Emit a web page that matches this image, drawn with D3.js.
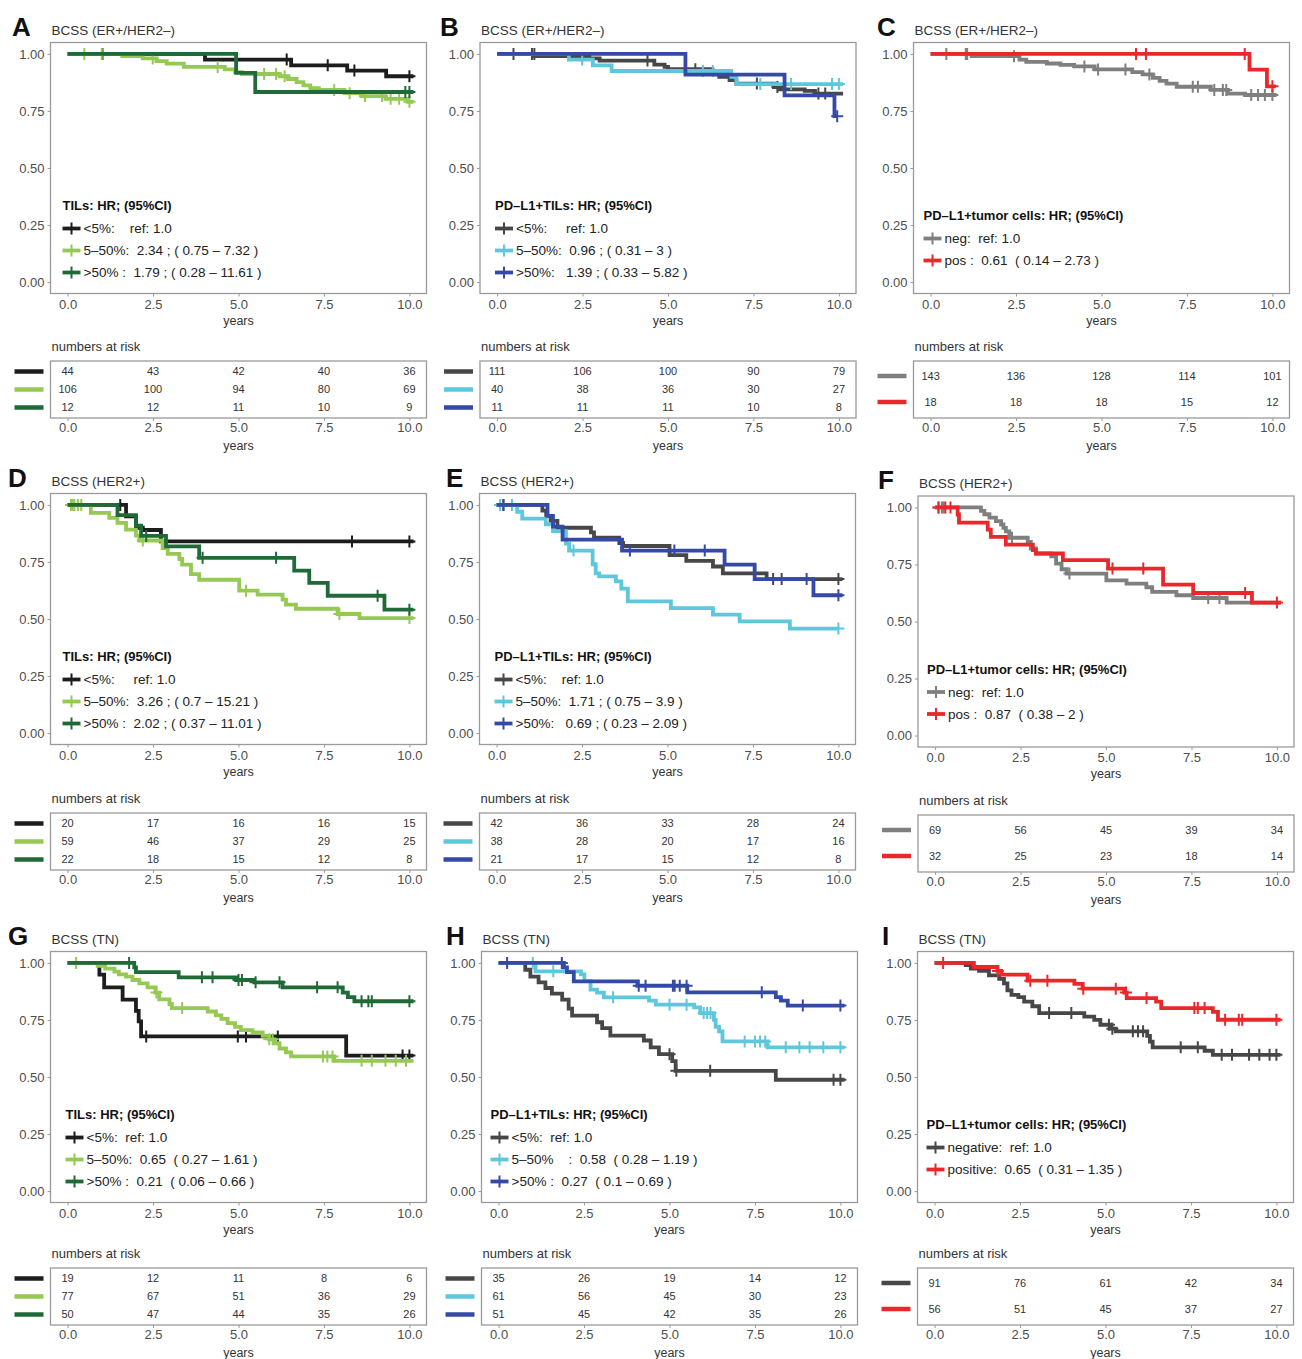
<!DOCTYPE html>
<html>
<head>
<meta charset="utf-8">
<script src="https://cdn.jsdelivr.net/npm/d3@7"></script>
<style>
  body { margin: 0; background: #fff; }
  text { font-family: "Liberation Sans", Arial, sans-serif; }
</style>
</head>
<body>
<div id="chart"></div>
<script>
// axis ticks
var timeTicks = [0, 2.5, 5, 7.5, 10]
var survTicks = [0, 0.25, 0.5, 0.75, 1]

// colours
var cBlack = "#1d1d1d", cLime = "#95c954", cForest = "#1f6a37"
var cDark = "#474747", cCyan = "#5fc7dc", cBlue = "#3549a6"
var cGrey = "#7f7f7f", cRed = "#e8282b"

// ---- A : TILs, ER+/HER2- ----
var aLowSteps = [[0,1],[4.02,0.975],[6.54,0.95],[8.18,0.927],[9.32,0.902],[10.12,0.902]]
var aLowCens = [1.02, 6.41, 7.61, 8.39, 10.0]
var aMidSteps = [[0,1],[1.6,0.99],[2.2,0.98],[2.6,0.968],[2.9,0.957],[3.4,0.943],[4.6,0.932],[4.9,0.92],[5.1,0.912],[6.2,0.902],[6.45,0.89],[6.7,0.876],[6.9,0.862],[7.1,0.85],[7.35,0.842],[8.1,0.828],[8.6,0.815],[9.3,0.803],[9.95,0.79],[10.12,0.79]]
var aMidCens = [0.49, 1.0, 2.49, 4.39, 5.75, 6.1, 6.35, 7.8, 8.25, 8.7, 9.2, 9.45, 9.7, 10.0]
var aHighSteps = [[0,1],[4.93,0.917],[5.49,0.833],[10.12,0.833]]
var aHighCens = [9.88, 10.0]
var aRisk = [[44,43,42,40,36],[106,100,94,80,69],[12,12,11,10,9]]
var aLabels = ["<5%:    ref: 1.0", "5–50%:  2.34 ; ( 0.75 – 7.32 )", ">50% :  1.79 ; ( 0.28 – 11.61 )"]

// ---- B : PD-L1+TILs, ER+/HER2- ----
var bLowSteps = [[0,1],[1.1,0.99],[2.7,0.98],[3.0,0.971],[4.6,0.953],[4.9,0.943],[5.0,0.933],[6.3,0.915],[6.5,0.9],[6.8,0.885],[7.0,0.87],[8.1,0.855],[8.25,0.845],[9.0,0.838],[9.3,0.826],[10.12,0.826]]
var bLowCens = [0.48, 1.02, 1.09, 4.4, 5.8, 7.6, 8.2, 9.4, 9.6]
var bMidSteps = [[0,1],[2.1,0.975],[2.8,0.95],[3.35,0.925],[6.85,0.9],[7.0,0.868],[10.12,0.868]]
var bMidCens = [2.49, 6.02, 6.31, 7.7, 8.6, 9.8, 10.0]
var bHighSteps = [[0,1],[5.51,0.909],[8.41,0.818],[9.87,0.727],[9.95,0.727]]
var bHighCens = [9.95]
var bRisk = [[111,106,100,90,79],[40,38,36,30,27],[11,11,11,10,8]]
var bLabels = ["<5%:     ref: 1.0", "5–50%:  0.96 ; ( 0.31 – 3 )", ">50%:   1.39 ; ( 0.33 – 5.82 )"]

// ---- C : PD-L1+tumor cells, ER+/HER2- ----
var cNegSteps = [[0,1],[1.2,0.99],[2.6,0.975],[2.8,0.965],[3.4,0.958],[3.8,0.952],[4.2,0.945],[4.8,0.932],[5.9,0.92],[6.2,0.91],[6.5,0.895],[6.7,0.882],[6.9,0.87],[7.2,0.856],[8.2,0.842],[8.7,0.826],[9.2,0.82],[10.12,0.82]]
var cNegCens = [0.46, 1.03, 1.07, 2.44, 4.5, 4.9, 5.7, 6.4, 7.67, 7.82, 8.3, 8.55, 8.65, 9.38, 9.58, 9.78, 10.0]
var cPosSteps = [[0,1],[9.33,0.931],[9.84,0.858],[10.1,0.858]]
var cPosCens = [6.01, 6.3, 9.19, 10.0]
var cRisk = [[143,136,128,114,101],[18,18,18,15,12]]
var cLabels = ["neg:  ref: 1.0", "pos :  0.61  ( 0.14 – 2.73 )"]

// ---- D : TILs, HER2+ ----
var dLowSteps = [[0,1],[1.71,0.95],[2.0,0.9],[2.2,0.89],[2.73,0.84],[10.12,0.84]]
var dLowCens = [1.54, 8.32, 10.0]
var dMidSteps = [[0,1],[0.68,0.965],[1.22,0.943],[1.46,0.921],[1.71,0.892],[2.0,0.865],[2.1,0.844],[2.78,0.811],[2.93,0.785],[3.27,0.763],[3.35,0.738],[3.61,0.697],[3.85,0.672],[5.02,0.624],[5.56,0.607],[6.29,0.585],[6.39,0.563],[6.68,0.545],[7.9,0.522],[8.54,0.504],[10.12,0.504]]
var dMidCens = [0.1, 0.15, 0.2, 0.3, 0.4, 2.2, 5.22, 7.95, 10.0]
var dHighSteps = [[0,1],[1.46,0.955],[2.0,0.909],[2.15,0.864],[2.88,0.818],[3.85,0.768],[6.63,0.712],[7.07,0.658],[7.61,0.602],[9.27,0.541],[10.12,0.541]]
var dHighCens = [2.3, 3.95, 6.1, 9.07, 10.0]
var dRisk = [[20,17,16,16,15],[59,46,37,29,25],[22,18,15,12,8]]
var dLabels = ["<5%:     ref: 1.0", "5–50%:  3.26 ; ( 0.7 – 15.21 )", ">50% :  2.02 ; ( 0.37 – 11.01 )"]

// ---- E : PD-L1+TILs, HER2+ ----
var eLowSteps = [[0,1],[1.34,0.975],[1.45,0.952],[1.58,0.93],[1.78,0.9],[2.76,0.88],[2.85,0.857],[3.59,0.833],[3.7,0.82],[5.06,0.78],[5.55,0.755],[6.33,0.73],[6.62,0.7],[7.9,0.675],[10.12,0.675]]
var eLowCens = [0.1, 0.2, 8.09, 8.34, 10.0]
var eMidSteps = [[0,1],[0.6,0.97],[0.75,0.94],[1.44,0.915],[1.65,0.885],[2.03,0.83],[2.12,0.8],[2.81,0.74],[2.9,0.7],[3.0,0.687],[3.49,0.665],[3.65,0.633],[3.84,0.577],[5.1,0.548],[6.33,0.519],[7.11,0.49],[8.58,0.458],[10.0,0.458]]
var eMidCens = [0.1, 0.45, 2.25, 10.0]
var eHighSteps = [[0,1],[1.49,0.952],[1.65,0.905],[1.93,0.848],[3.67,0.8],[6.67,0.738],[7.55,0.675],[9.27,0.604],[10.12,0.604]]
var eHighCens = [0.2, 3.9, 5.2, 6.09, 9.07, 10.0]
var eRisk = [[42,36,33,28,24],[38,28,20,17,16],[21,17,15,12,8]]
var eLabels = ["<5%:    ref: 1.0", "5–50%:  1.71 ; ( 0.75 – 3.9 )", ">50%:   0.69 ; ( 0.23 – 2.09 )"]

// ---- F : PD-L1+tumor cells, HER2+ ----
var fNegSteps = [[0,1],[1.34,0.985],[1.44,0.97],[1.59,0.955],[1.78,0.94],[1.93,0.925],[2.0,0.91],[2.07,0.895],[2.17,0.867],[2.71,0.849],[2.8,0.82],[2.95,0.798],[3.4,0.785],[3.54,0.754],[3.7,0.729],[3.85,0.71],[5.01,0.68],[5.6,0.666],[6.18,0.65],[6.35,0.63],[7.06,0.615],[7.55,0.603],[8.53,0.583],[10.12,0.583]]
var fNegCens = [0.1, 0.2, 0.25, 2.25, 3.93, 7.99, 8.32]
var fPosSteps = [[0,1],[0.66,0.969],[0.7,0.933],[1.54,0.903],[1.63,0.871],[2.07,0.837],[2.86,0.813],[2.95,0.798],[3.74,0.769],[5.06,0.732],[6.67,0.662],[7.55,0.625],[9.27,0.583],[10.12,0.583]]
var fPosCens = [0.1, 0.3, 0.45, 5.19, 6.09, 9.07, 10.0]
var fRisk = [[69,56,45,39,34],[32,25,23,18,14]]
var fLabels = ["neg:  ref: 1.0", "pos :  0.87  ( 0.38 – 2 )"]

// ---- G : TILs, TN ----
var gLowSteps = [[0,1],[0.93,0.949],[1.07,0.893],[1.61,0.839],[2.0,0.79],[2.08,0.744],[2.15,0.678],[8.15,0.594],[10.12,0.594]]
var gLowCens = [2.3, 4.98, 5.22, 6.15, 9.8, 10.0]
var gMidSteps = [[0,1],[0.88,0.987],[1.1,0.975],[1.37,0.962],[1.5,0.95],[1.71,0.94],[1.9,0.925],[2.1,0.91],[2.34,0.893],[2.57,0.87],[2.68,0.84],[2.98,0.82],[3.05,0.802],[4.1,0.787],[4.34,0.77],[4.5,0.755],[4.68,0.736],[4.9,0.72],[5.07,0.705],[5.41,0.695],[5.71,0.68],[5.9,0.665],[6.05,0.648],[6.2,0.625],[6.39,0.608],[6.54,0.59],[7.8,0.571],[10.12,0.571]]
var gMidCens = [0.25, 2.6, 3.35, 5.9, 6.0, 7.47, 7.6, 7.75, 8.6, 8.9, 9.3, 9.6, 9.9]
var gHighSteps = [[0,1],[1.95,0.98],[2.0,0.96],[3.25,0.937],[4.93,0.925],[5.46,0.915],[6.29,0.893],[8.05,0.87],[8.2,0.85],[8.39,0.832],[10.12,0.832]]
var gHighCens = [1.8, 3.93, 4.24, 5.0, 5.1, 5.5, 6.2, 7.3, 7.9, 8.6, 8.8, 8.9, 10.0]
var gRisk = [[19,12,11,8,6],[77,67,51,36,29],[50,47,44,35,26]]
var gLabels = ["<5%:  ref: 1.0", "5–50%:  0.65  ( 0.27 – 1.61 )", ">50% :  0.21  ( 0.06 – 0.66 )"]

// ---- H : PD-L1+TILs, TN ----
var hLowSteps = [[0,1],[0.78,0.97],[0.93,0.94],[1.17,0.915],[1.37,0.89],[1.56,0.865],[1.86,0.839],[2.05,0.8],[2.15,0.769],[2.88,0.74],[3.03,0.714],[3.27,0.681],[4.25,0.66],[4.45,0.63],[4.69,0.6],[5.08,0.57],[5.18,0.527],[8.11,0.488],[10.12,0.488]]
var hLowCens = [5.0, 5.2, 6.19, 9.8, 10.0]
var hMidSteps = [[0,1],[1.08,0.963],[2.41,0.95],[2.51,0.92],[2.69,0.883],[2.88,0.87],[3.08,0.849],[4.4,0.835],[4.6,0.817],[5.72,0.805],[5.9,0.78],[6.3,0.75],[6.35,0.72],[6.45,0.7],[6.55,0.656],[7.87,0.63],[10.12,0.63]]
var hMidCens = [1.0, 1.6, 3.35, 5.0, 5.5, 6.0, 6.1, 6.2, 7.2, 7.5, 7.65, 7.8, 8.4, 8.8, 9.1, 9.5, 10.0]
var hHighSteps = [[0,1],[1.91,0.98],[2.0,0.96],[2.2,0.919],[4.06,0.9],[5.52,0.871],[8.11,0.85],[8.26,0.835],[8.46,0.813],[10.12,0.813]]
var hHighCens = [0.25, 1.85, 4.1, 4.3, 5.1, 5.15, 5.3, 5.5, 7.7, 8.9, 10.0]
var hRisk = [[35,26,19,14,12],[61,56,45,30,23],[51,45,42,35,26]]
var hLabels = ["<5%:  ref: 1.0", "5–50%    :  0.58  ( 0.28 – 1.19 )", ">50% :  0.27  ( 0.1 – 0.69 )"]

// ---- I : PD-L1+tumor cells, TN ----
var iNegSteps = [[0,1],[0.91,0.99],[1.06,0.975],[1.3,0.965],[1.59,0.945],[1.89,0.93],[2.03,0.91],[2.13,0.88],[2.25,0.86],[2.45,0.85],[2.62,0.83],[2.86,0.81],[3.06,0.78],[4.38,0.765],[4.67,0.75],[4.85,0.729],[5.16,0.712],[5.3,0.7],[6.22,0.68],[6.3,0.655],[6.38,0.63],[7.9,0.615],[8.14,0.597],[10.12,0.597]]
var iNegCens = [3.35, 4.0, 5.1, 5.2, 5.8, 5.95, 6.1, 7.2, 7.7, 8.4, 8.7, 9.2, 9.5, 9.8, 10.0]
var iPosSteps = [[0,1],[1.15,0.982],[1.84,0.965],[1.95,0.949],[2.72,0.922],[4.09,0.908],[4.33,0.887],[5.55,0.87],[5.62,0.846],[6.48,0.83],[6.63,0.802],[8.14,0.785],[8.29,0.751],[10.12,0.751]]
var iPosCens = [0.25, 1.85, 2.8, 3.3, 4.35, 5.3, 5.6, 6.2, 7.6, 7.7, 7.9, 8.5, 8.9, 9.0, 10.0]
var iRisk = [[91,76,61,42,34],[56,51,45,37,27]]
var iLabels = ["negative:  ref: 1.0", "positive:  0.65  ( 0.31 – 1.35 )"]

var tilsTitle = "TILs: HR; (95%CI)"
var pdTilsTitle = "PD–L1+TILs: HR; (95%CI)"
var pdTumorTitle = "PD–L1+tumor cells: HR; (95%CI)"

// panel layout
var W = 376, H = 251
var panels = [
  { letter: "A", lx: 12, title: "BCSS (ER+/HER2–)", bx: 50.5, by: 42.5, tableY: 361, legOff: 12, legTitle: tilsTitle, labels: aLabels, risk: aRisk,
    series: [[aLowSteps, aLowCens, cBlack], [aMidSteps, aMidCens, cLime], [aHighSteps, aHighCens, cForest]] },
  { letter: "B", lx: 440, title: "BCSS (ER+/HER2–)", bx: 480, by: 42.5, tableY: 361, legOff: 15, legTitle: pdTilsTitle, labels: bLabels, risk: bRisk,
    series: [[bLowSteps, bLowCens, cDark], [bMidSteps, bMidCens, cCyan], [bHighSteps, bHighCens, cBlue]] },
  { letter: "C", lx: 877, title: "BCSS (ER+/HER2–)", bx: 913.5, by: 42.5, tableY: 361, legOff: 10, legTitle: pdTumorTitle, labels: cLabels, risk: cRisk,
    series: [[cNegSteps, cNegCens, cGrey], [cPosSteps, cPosCens, cRed]] },
  { letter: "D", lx: 8, title: "BCSS (HER2+)", bx: 50.5, by: 493.5, tableY: 813, legOff: 12, legTitle: tilsTitle, labels: dLabels, risk: dRisk,
    series: [[dLowSteps, dLowCens, cBlack], [dMidSteps, dMidCens, cLime], [dHighSteps, dHighCens, cForest]] },
  { letter: "E", lx: 446, title: "BCSS (HER2+)", bx: 479.5, by: 493.5, tableY: 813, legOff: 15, legTitle: pdTilsTitle, labels: eLabels, risk: eRisk,
    series: [[eLowSteps, eLowCens, cDark], [eMidSteps, eMidCens, cCyan], [eHighSteps, eHighCens, cBlue]] },
  { letter: "F", lx: 878, title: "BCSS (HER2+)", bx: 918, by: 496, tableY: 815, legOff: 9, legTitle: pdTumorTitle, labels: fLabels, risk: fRisk,
    series: [[fNegSteps, fNegCens, cGrey], [fPosSteps, fPosCens, cRed]] },
  { letter: "G", lx: 8, title: "BCSS (TN)", bx: 50.5, by: 951.5, tableY: 1268, legOff: 15, legTitle: tilsTitle, labels: gLabels, risk: gRisk,
    series: [[gLowSteps, gLowCens, cBlack], [gMidSteps, gMidCens, cLime], [gHighSteps, gHighCens, cForest]] },
  { letter: "H", lx: 446, title: "BCSS (TN)", bx: 481.5, by: 951.5, tableY: 1268, legOff: 9, legTitle: pdTilsTitle, labels: hLabels, risk: hRisk,
    series: [[hLowSteps, hLowCens, cDark], [hMidSteps, hMidCens, cCyan], [hHighSteps, hHighCens, cBlue]] },
  { letter: "I", lx: 882, title: "BCSS (TN)", bx: 917.5, by: 951.5, tableY: 1268, legOff: 9, legTitle: pdTumorTitle, labels: iLabels, risk: iRisk,
    series: [[iNegSteps, iNegCens, cDark], [iPosSteps, iPosCens, cRed]] }
]

var svg = d3.select("#chart").append("svg")
  .attr("width", 1302)
  .attr("height", 1359)
svg.append("rect").attr("width", 1302).attr("height", 1359).attr("fill", "#fff")

function survAt(steps, t) {
  var s = 1
  steps.forEach(function (d) { if (d[0] <= t) s = d[1] })
  return s
}

function styleAxis(g) {
  g.select(".domain").remove()
  g.selectAll(".tick line").attr("stroke", "#9a9a9a")
  g.selectAll(".tick text").attr("fill", "#4d4d4d").style("font-size", "13px")
}

function cross(sel, x, y, color) {
  sel.append("path")
    .attr("d", "M" + (x - 6) + "," + y + "H" + (x + 6) + "M" + x + "," + (y - 6) + "V" + (y + 6))
    .attr("stroke", color)
    .attr("stroke-width", 2)
    .attr("fill", "none")
}

panels.forEach(function (p) {
  var g = svg.append("g")
  var x = d3.scaleLinear().domain([-0.5, 10.5]).range([p.bx, p.bx + W])
  var y = d3.scaleLinear().domain([-0.05, 1.05]).range([p.by + H, p.by])

  // letter + title
  g.append("text").attr("x", p.lx).attr("y", p.by - 7)
    .style("font-size", "26px").style("font-weight", "bold").attr("fill", "#111").text(p.letter)
  g.append("text").attr("x", p.bx + 1).attr("y", p.by - 8)
    .style("font-size", "13.5px").attr("fill", "#333").text(p.title)

  // plot frame
  g.append("rect").attr("x", p.bx).attr("y", p.by).attr("width", W).attr("height", H)
    .attr("fill", "#fff").attr("stroke", "#9a9a9a").attr("stroke-width", 1.3)

  var ya = g.append("g").attr("transform", "translate(" + p.bx + ",0)")
    .call(d3.axisLeft(y).tickValues(survTicks).tickFormat(d3.format(".2f")).tickSize(3).tickPadding(3))
  styleAxis(ya)
  var xa = g.append("g").attr("transform", "translate(0," + (p.by + H) + ")")
    .call(d3.axisBottom(x).tickValues(timeTicks).tickFormat(d3.format(".1f")).tickSize(3).tickPadding(3))
  styleAxis(xa)
  g.append("text").attr("x", x(5)).attr("y", p.by + H + 31).attr("text-anchor", "middle")
    .style("font-size", "12.5px").attr("fill", "#333").text("years")

  // survival curves
  var line = d3.line().curve(d3.curveStepAfter)
    .x(function (d) { return x(d[0]) })
    .y(function (d) { return y(d[1]) })
  p.series.forEach(function (s) {
    g.append("path").datum(s[0]).attr("d", line)
      .attr("fill", "none").attr("stroke", s[2]).attr("stroke-width", 3.8)
    s[1].forEach(function (t) { cross(g, x(t), y(survAt(s[0], t)), s[2]) })
  })

  // legend
  var n = p.series.length
  var ly0 = n === 3 ? p.by + 163 : p.by + 173
  var lx = p.bx + p.legOff
  g.append("text").attr("x", lx).attr("y", ly0).attr("dy", "0.35em")
    .style("font-size", "13px").style("font-weight", "bold").attr("fill", "#111").text(p.legTitle)
  p.series.forEach(function (s, i) {
    var yy = ly0 + 23 + i * 22
    g.append("line").attr("x1", lx).attr("x2", lx + 18).attr("y1", yy).attr("y2", yy)
      .attr("stroke", s[2]).attr("stroke-width", 3.8)
    cross(g, lx + 9, yy, s[2])
    g.append("text").attr("x", lx + 21).attr("y", yy).attr("dy", "0.35em")
      .attr("xml:space", "preserve").style("white-space", "pre")
      .style("font-size", "13.5px").attr("fill", "#222").text(p.labels[i])
  })

  // numbers at risk table
  var th = 57
  g.append("text").attr("x", p.bx + 1).attr("y", p.tableY - 10)
    .style("font-size", "13px").attr("fill", "#333").text("numbers at risk")
  g.append("rect").attr("x", p.bx).attr("y", p.tableY).attr("width", W).attr("height", th)
    .attr("fill", "#fff").attr("stroke", "#9a9a9a").attr("stroke-width", 1.3)
  var rowY = n === 3 ? [10.5, 28.5, 46.5] : [15, 41]
  p.risk.forEach(function (row, i) {
    var yy = p.tableY + rowY[i]
    g.append("line").attr("x1", p.bx - 36).attr("x2", p.bx - 7).attr("y1", yy).attr("y2", yy)
      .attr("stroke", p.series[i][2]).attr("stroke-width", 4.5)
    g.selectAll(null).data(row).enter().append("text")
      .attr("x", function (d, j) { return x(timeTicks[j]) })
      .attr("y", yy).attr("dy", "0.35em").attr("text-anchor", "middle")
      .style("font-size", "11px").attr("fill", "#333")
      .text(function (d) { return d })
  })
  var ta = g.append("g").attr("transform", "translate(0," + (p.tableY + th) + ")")
    .call(d3.axisBottom(x).tickValues(timeTicks).tickFormat(d3.format(".1f")).tickSize(3).tickPadding(2))
  styleAxis(ta)
  g.append("text").attr("x", x(5)).attr("y", p.tableY + th + 32).attr("text-anchor", "middle")
    .style("font-size", "12.5px").attr("fill", "#333").text("years")
})
</script>
</body>
</html>
